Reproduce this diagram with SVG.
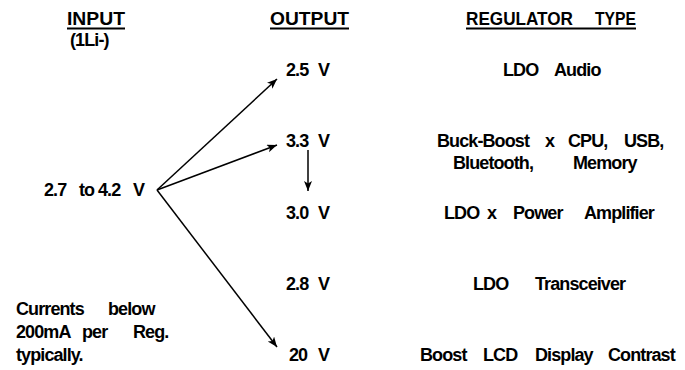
<svg xmlns="http://www.w3.org/2000/svg" width="685" height="370" viewBox="0 0 685 370">
<style>
text { font-family: "Liberation Sans", Arial, sans-serif; font-weight: bold; fill: #000; }
.h { font-size: 19px; }
.b { font-size: 18px; letter-spacing: -0.9px; }
.ul { stroke: #000; stroke-width: 2; }
.arr { stroke: #000; stroke-width: 1.5; fill: none; marker-end: url(#ah); }
</style>
<defs>
<marker id="ah" markerUnits="userSpaceOnUse" markerWidth="11" markerHeight="9" refX="10" refY="4" orient="auto">
<path d="M0,0 L10,4 L0,8 L2.5,4 z" fill="#000"/>
</marker>
</defs>
<rect width="685" height="370" fill="#fff"/>

<g id="headings">
<text class="h" x="67" y="25" textLength="58" lengthAdjust="spacingAndGlyphs">INPUT</text>
<line class="ul" x1="67" y1="28.5" x2="125" y2="28.5"/>
<text class="b" x="70" y="46">(1Li-)</text>
<text class="h" x="270" y="25" textLength="79" lengthAdjust="spacingAndGlyphs">OUTPUT</text>
<line class="ul" x1="270" y1="28.5" x2="349" y2="28.5"/>
<text class="h" y="25"><tspan x="466" textLength="107" lengthAdjust="spacingAndGlyphs">REGULATOR</tspan><tspan x="595" textLength="41" lengthAdjust="spacingAndGlyphs">TYPE</tspan></text>
<line class="ul" x1="466" y1="28.5" x2="636" y2="28.5"/>
</g>

<g id="input">
<text class="b" y="196"><tspan x="44">2.7</tspan><tspan x="79">to</tspan><tspan x="98">4.2</tspan><tspan x="133">V</tspan></text>
</g>

<g id="out-25">
<text class="b" y="76"><tspan x="286">2.5</tspan><tspan x="318">V</tspan></text>
<text class="b" y="76"><tspan x="503">LDO</tspan><tspan x="554">Audio</tspan></text>
</g>

<g id="out-33">
<text class="b" y="147"><tspan x="286">3.3</tspan><tspan x="318">V</tspan></text>
<text class="b" y="147"><tspan x="437">Buck-Boost</tspan><tspan x="545">x</tspan><tspan x="568">CPU,</tspan><tspan x="624">USB,</tspan></text>
<text class="b" y="169"><tspan x="453">Bluetooth,</tspan><tspan x="573">Memory</tspan></text>
</g>

<g id="out-30">
<text class="b" y="219"><tspan x="286">3.0</tspan><tspan x="318">V</tspan></text>
<text class="b" y="219"><tspan x="444">LDO</tspan><tspan x="487">x</tspan><tspan x="513">Power</tspan><tspan x="584">Amplifier</tspan></text>
</g>

<g id="out-28">
<text class="b" y="290"><tspan x="286">2.8</tspan><tspan x="318">V</tspan></text>
<text class="b" y="290"><tspan x="473">LDO</tspan><tspan x="535">Transceiver</tspan></text>
</g>

<g id="out-20">
<text class="b" y="361"><tspan x="289">20</tspan><tspan x="318">V</tspan></text>
<text class="b" y="361"><tspan x="420">Boost</tspan><tspan x="483">LCD</tspan><tspan x="535">Display</tspan><tspan x="608">Contrast</tspan></text>
</g>

<g id="note">
<text class="b" y="315"><tspan x="16">Currents</tspan><tspan x="108">below</tspan></text>
<text class="b" y="338"><tspan x="16">200mA</tspan><tspan x="82">per</tspan><tspan x="133">Reg.</tspan></text>
<text class="b" y="361"><tspan x="16">typically.</tspan></text>
</g>

<g id="connectors">
<line class="arr" x1="157" y1="190" x2="277" y2="79"/>
<line class="arr" x1="157" y1="190" x2="277" y2="145"/>
<line class="arr" x1="157" y1="190" x2="277" y2="347"/>
<line class="arr" x1="308" y1="150" x2="308" y2="191"/>
</g>
</svg>
